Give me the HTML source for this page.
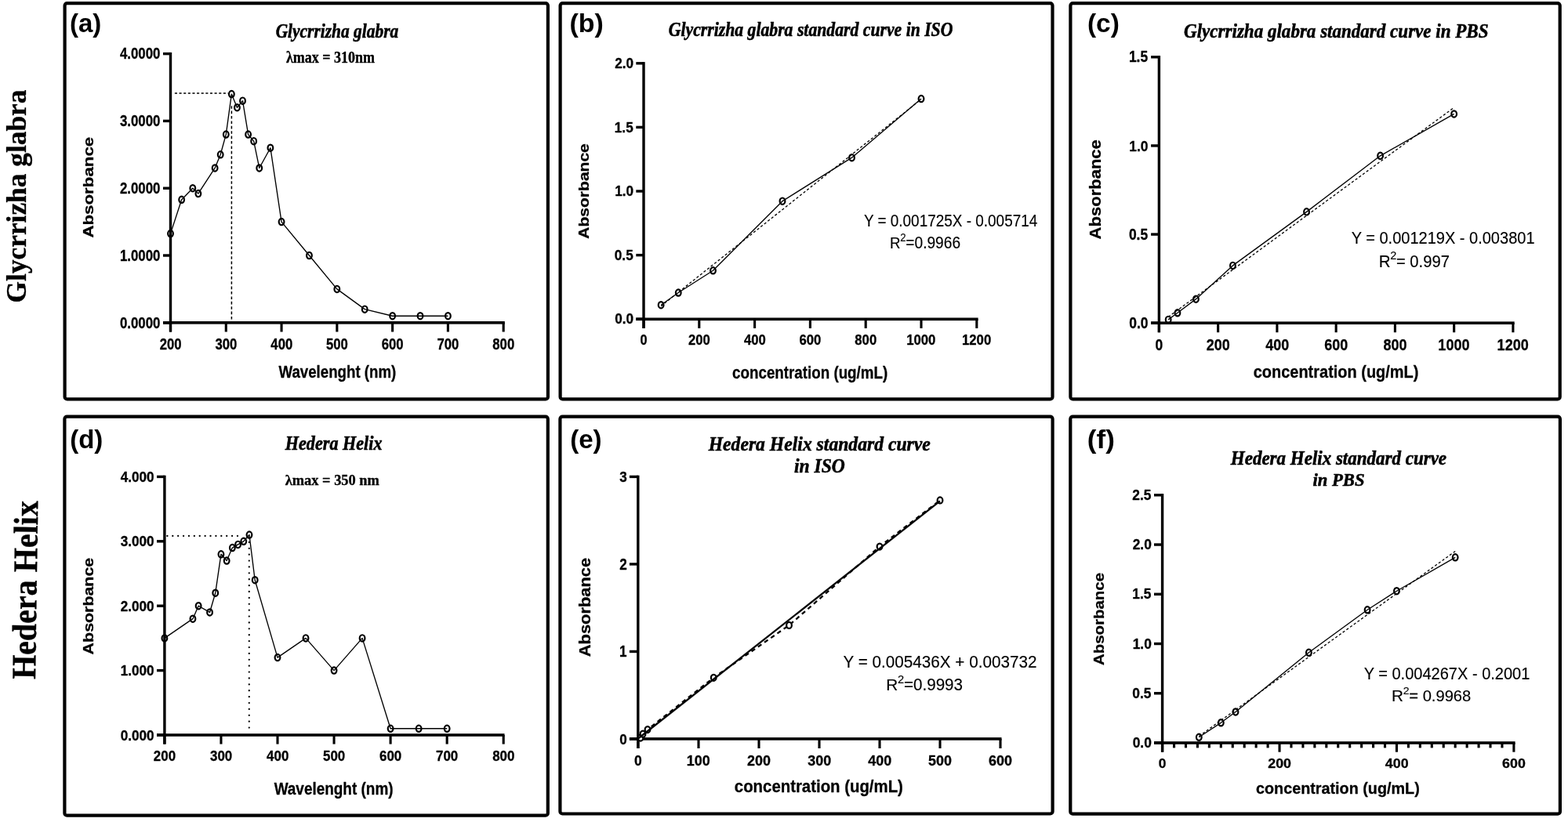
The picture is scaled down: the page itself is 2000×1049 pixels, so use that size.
<!DOCTYPE html>
<html><head><meta charset="utf-8"><title>Figure</title><style>html,body{margin:0;padding:0;background:#fff;width:2000px;height:1049px;overflow:hidden}svg{display:block}</style></head><body>
<svg width="2000" height="1049" viewBox="0 0 2000 1049"><rect width="2000" height="1049" fill="#fff"/><rect x="82.6" y="4.1" width="616.3" height="505.3" rx="3" ry="3" fill="none" stroke="#000" stroke-width="4.2"/>
<rect x="714.6" y="4.1" width="627.9" height="505.3" rx="3" ry="3" fill="none" stroke="#000" stroke-width="4.2"/>
<rect x="1365.4" y="4.1" width="624.3" height="505.3" rx="3" ry="3" fill="none" stroke="#000" stroke-width="4.2"/>
<rect x="82.4" y="531.7" width="616.4" height="509" rx="3" ry="3" fill="none" stroke="#000" stroke-width="4.2"/>
<rect x="714.4" y="531.7" width="628.2" height="506.8" rx="3" ry="3" fill="none" stroke="#000" stroke-width="4.2"/>
<rect x="1365.3" y="531.7" width="624.6" height="507" rx="3" ry="3" fill="none" stroke="#000" stroke-width="4.2"/>
<rect x="215.8" y="66.9" width="3.4" height="356.6" fill="#000"/>
<rect x="208" y="410" width="435.8" height="3.6" fill="#000"/>
<rect x="208" y="66.9" width="9.5" height="3.4" fill="#000"/>
<rect x="208" y="152.7" width="9.5" height="3.4" fill="#000"/>
<rect x="208" y="238.5" width="9.5" height="3.4" fill="#000"/>
<rect x="208" y="324.3" width="9.5" height="3.4" fill="#000"/>
<rect x="208" y="410.1" width="9.5" height="3.4" fill="#000"/>
<rect x="215.95" y="411.8" width="3.1" height="11.7" fill="#000"/>
<rect x="286.73" y="411.8" width="3.1" height="11.7" fill="#000"/>
<rect x="357.51" y="411.8" width="3.1" height="11.7" fill="#000"/>
<rect x="428.29" y="411.8" width="3.1" height="11.7" fill="#000"/>
<rect x="499.07" y="411.8" width="3.1" height="11.7" fill="#000"/>
<rect x="569.85" y="411.8" width="3.1" height="11.7" fill="#000"/>
<rect x="640.63" y="411.8" width="3.1" height="11.7" fill="#000"/>
<line x1="222.9" y1="118.95" x2="290.86" y2="118.95" stroke="#000" stroke-width="1.6" stroke-linecap="butt" stroke-dasharray="3.1,2.53"/>
<line x1="295.4" y1="135.2" x2="295.4" y2="409.8" stroke="#000" stroke-width="1.5" stroke-linecap="butt" stroke-dasharray="3.6,2.8"/>
<polyline points="217.5,298.12 231.66,254.79 245.81,240.2 252.89,247.06 274.12,214.46 281.2,197.3 288.28,171.56 295.36,120.08 302.44,137.24 309.51,128.66 316.59,171.56 323.67,180.14 330.75,214.46 344.9,188.72 359.06,283.1 394.45,326 429.84,368.9 465.23,394.64 500.62,403.22 536.01,403.22 571.4,403.22" fill="none" stroke="#000" stroke-width="1.35" stroke-linejoin="round" stroke-linecap="butt"/>
<ellipse cx="217.5" cy="298.12" rx="3.35" ry="4.15" fill="none" stroke="#000" stroke-width="2.2"/>
<ellipse cx="231.66" cy="254.79" rx="3.35" ry="4.15" fill="none" stroke="#000" stroke-width="2.2"/>
<ellipse cx="245.81" cy="240.2" rx="3.35" ry="4.15" fill="none" stroke="#000" stroke-width="2.2"/>
<ellipse cx="252.89" cy="247.06" rx="3.35" ry="4.15" fill="none" stroke="#000" stroke-width="2.2"/>
<ellipse cx="274.12" cy="214.46" rx="3.35" ry="4.15" fill="none" stroke="#000" stroke-width="2.2"/>
<ellipse cx="281.2" cy="197.3" rx="3.35" ry="4.15" fill="none" stroke="#000" stroke-width="2.2"/>
<ellipse cx="288.28" cy="171.56" rx="3.35" ry="4.15" fill="none" stroke="#000" stroke-width="2.2"/>
<ellipse cx="295.36" cy="120.08" rx="3.35" ry="4.15" fill="none" stroke="#000" stroke-width="2.2"/>
<ellipse cx="302.44" cy="137.24" rx="3.35" ry="4.15" fill="none" stroke="#000" stroke-width="2.2"/>
<ellipse cx="309.51" cy="128.66" rx="3.35" ry="4.15" fill="none" stroke="#000" stroke-width="2.2"/>
<ellipse cx="316.59" cy="171.56" rx="3.35" ry="4.15" fill="none" stroke="#000" stroke-width="2.2"/>
<ellipse cx="323.67" cy="180.14" rx="3.35" ry="4.15" fill="none" stroke="#000" stroke-width="2.2"/>
<ellipse cx="330.75" cy="214.46" rx="3.35" ry="4.15" fill="none" stroke="#000" stroke-width="2.2"/>
<ellipse cx="344.9" cy="188.72" rx="3.35" ry="4.15" fill="none" stroke="#000" stroke-width="2.2"/>
<ellipse cx="359.06" cy="283.1" rx="3.35" ry="4.15" fill="none" stroke="#000" stroke-width="2.2"/>
<ellipse cx="394.45" cy="326" rx="3.35" ry="4.15" fill="none" stroke="#000" stroke-width="2.2"/>
<ellipse cx="429.84" cy="368.9" rx="3.35" ry="4.15" fill="none" stroke="#000" stroke-width="2.2"/>
<ellipse cx="465.23" cy="394.64" rx="3.35" ry="4.15" fill="none" stroke="#000" stroke-width="2.2"/>
<ellipse cx="500.62" cy="403.22" rx="3.35" ry="4.15" fill="none" stroke="#000" stroke-width="2.2"/>
<ellipse cx="536.01" cy="403.22" rx="3.35" ry="4.15" fill="none" stroke="#000" stroke-width="2.2"/>
<ellipse cx="571.4" cy="403.22" rx="3.35" ry="4.15" fill="none" stroke="#000" stroke-width="2.2"/>
<rect x="819.3" y="79.1" width="3.4" height="339.8" fill="#000"/>
<rect x="811.3" y="405.5" width="436.3" height="3.6" fill="#000"/>
<rect x="811.3" y="79.1" width="9.7" height="3.4" fill="#000"/>
<rect x="811.3" y="160.7" width="9.7" height="3.4" fill="#000"/>
<rect x="811.3" y="242.3" width="9.7" height="3.4" fill="#000"/>
<rect x="811.3" y="323.9" width="9.7" height="3.4" fill="#000"/>
<rect x="811.3" y="405.5" width="9.7" height="3.4" fill="#000"/>
<rect x="819.45" y="407.3" width="3.1" height="11.6" fill="#000"/>
<rect x="890.25" y="407.3" width="3.1" height="11.6" fill="#000"/>
<rect x="961.05" y="407.3" width="3.1" height="11.6" fill="#000"/>
<rect x="1031.85" y="407.3" width="3.1" height="11.6" fill="#000"/>
<rect x="1102.65" y="407.3" width="3.1" height="11.6" fill="#000"/>
<rect x="1173.45" y="407.3" width="3.1" height="11.6" fill="#000"/>
<rect x="1244.25" y="407.3" width="3.1" height="11.6" fill="#000"/>
<line x1="843.12" y1="390.64" x2="1175" y2="126.71" stroke="#000" stroke-width="1.3" stroke-linecap="butt" stroke-dasharray="3.2,2.6"/>
<polyline points="843.12,389.18 865.25,373.52 909.5,345.28 998,256.67 1086.5,201.18 1175,126.11" fill="none" stroke="#000" stroke-width="1.35" stroke-linejoin="round" stroke-linecap="butt"/>
<ellipse cx="843.12" cy="389.18" rx="3.35" ry="4.15" fill="none" stroke="#000" stroke-width="2.2"/>
<ellipse cx="865.25" cy="373.52" rx="3.35" ry="4.15" fill="none" stroke="#000" stroke-width="2.2"/>
<ellipse cx="909.5" cy="345.28" rx="3.35" ry="4.15" fill="none" stroke="#000" stroke-width="2.2"/>
<ellipse cx="998" cy="256.67" rx="3.35" ry="4.15" fill="none" stroke="#000" stroke-width="2.2"/>
<ellipse cx="1086.5" cy="201.18" rx="3.35" ry="4.15" fill="none" stroke="#000" stroke-width="2.2"/>
<ellipse cx="1175" cy="126.11" rx="3.35" ry="4.15" fill="none" stroke="#000" stroke-width="2.2"/>
<rect x="1476.7" y="71.1" width="3.4" height="353.1" fill="#000"/>
<rect x="1468.1" y="410.4" width="463.6" height="3.6" fill="#000"/>
<rect x="1468.1" y="71.1" width="10.3" height="3.4" fill="#000"/>
<rect x="1468.1" y="184.23" width="10.3" height="3.4" fill="#000"/>
<rect x="1468.1" y="297.36" width="10.3" height="3.4" fill="#000"/>
<rect x="1468.1" y="410.49" width="10.3" height="3.4" fill="#000"/>
<rect x="1476.85" y="412.2" width="3.1" height="12" fill="#000"/>
<rect x="1552.1" y="412.2" width="3.1" height="12" fill="#000"/>
<rect x="1627.35" y="412.2" width="3.1" height="12" fill="#000"/>
<rect x="1702.6" y="412.2" width="3.1" height="12" fill="#000"/>
<rect x="1777.85" y="412.2" width="3.1" height="12" fill="#000"/>
<rect x="1853.1" y="412.2" width="3.1" height="12" fill="#000"/>
<rect x="1928.35" y="412.2" width="3.1" height="12" fill="#000"/>
<line x1="1490.16" y1="404.44" x2="1854.65" y2="137.24" stroke="#000" stroke-width="1.3" stroke-linecap="butt" stroke-dasharray="3.2,2.6"/>
<polyline points="1490.16,407.9 1501.92,399.3 1525.43,381.65 1572.46,338.89 1666.53,270.33 1760.59,198.83 1854.65,145.43" fill="none" stroke="#000" stroke-width="1.35" stroke-linejoin="round" stroke-linecap="butt"/>
<ellipse cx="1490.16" cy="407.9" rx="3.35" ry="4.15" fill="none" stroke="#000" stroke-width="2.2"/>
<ellipse cx="1501.92" cy="399.3" rx="3.35" ry="4.15" fill="none" stroke="#000" stroke-width="2.2"/>
<ellipse cx="1525.43" cy="381.65" rx="3.35" ry="4.15" fill="none" stroke="#000" stroke-width="2.2"/>
<ellipse cx="1572.46" cy="338.89" rx="3.35" ry="4.15" fill="none" stroke="#000" stroke-width="2.2"/>
<ellipse cx="1666.53" cy="270.33" rx="3.35" ry="4.15" fill="none" stroke="#000" stroke-width="2.2"/>
<ellipse cx="1760.59" cy="198.83" rx="3.35" ry="4.15" fill="none" stroke="#000" stroke-width="2.2"/>
<ellipse cx="1854.65" cy="145.43" rx="3.35" ry="4.15" fill="none" stroke="#000" stroke-width="2.2"/>
<rect x="208.2" y="606.7" width="3.4" height="342.9" fill="#000"/>
<rect x="200" y="936.2" width="443.5" height="3.6" fill="#000"/>
<rect x="200" y="606.7" width="9.9" height="3.4" fill="#000"/>
<rect x="200" y="689.1" width="9.9" height="3.4" fill="#000"/>
<rect x="200" y="771.5" width="9.9" height="3.4" fill="#000"/>
<rect x="200" y="853.9" width="9.9" height="3.4" fill="#000"/>
<rect x="200" y="936.3" width="9.9" height="3.4" fill="#000"/>
<rect x="208.35" y="938" width="3.1" height="11.6" fill="#000"/>
<rect x="280.4" y="938" width="3.1" height="11.6" fill="#000"/>
<rect x="352.45" y="938" width="3.1" height="11.6" fill="#000"/>
<rect x="424.5" y="938" width="3.1" height="11.6" fill="#000"/>
<rect x="496.55" y="938" width="3.1" height="11.6" fill="#000"/>
<rect x="568.6" y="938" width="3.1" height="11.6" fill="#000"/>
<rect x="640.65" y="938" width="3.1" height="11.6" fill="#000"/>
<line x1="213.4" y1="683.9" x2="303" y2="683.9" stroke="#000" stroke-width="2.3" stroke-linecap="round" stroke-dasharray="0.01,6.88"/>
<line x1="317.8" y1="691.9" x2="317.8" y2="929" stroke="#000" stroke-width="2.3" stroke-linecap="round" stroke-dasharray="0.01,7.88"/>
<polyline points="209.9,814.4 245.93,789.68 253.13,773.2 267.54,781.44 274.75,756.72 281.95,707.28 289.16,715.52 296.36,699.04 303.56,694.92 310.77,690.8 317.98,682.56 325.18,740.24 354,839.12 390.02,814.4 426.05,855.6 462.08,814.4 498.1,929.76 534.12,929.76 570.15,929.76" fill="none" stroke="#000" stroke-width="1.35" stroke-linejoin="round" stroke-linecap="butt"/>
<ellipse cx="209.9" cy="814.4" rx="3.35" ry="4.15" fill="none" stroke="#000" stroke-width="2.2"/>
<ellipse cx="245.93" cy="789.68" rx="3.35" ry="4.15" fill="none" stroke="#000" stroke-width="2.2"/>
<ellipse cx="253.13" cy="773.2" rx="3.35" ry="4.15" fill="none" stroke="#000" stroke-width="2.2"/>
<ellipse cx="267.54" cy="781.44" rx="3.35" ry="4.15" fill="none" stroke="#000" stroke-width="2.2"/>
<ellipse cx="274.75" cy="756.72" rx="3.35" ry="4.15" fill="none" stroke="#000" stroke-width="2.2"/>
<ellipse cx="281.95" cy="707.28" rx="3.35" ry="4.15" fill="none" stroke="#000" stroke-width="2.2"/>
<ellipse cx="289.16" cy="715.52" rx="3.35" ry="4.15" fill="none" stroke="#000" stroke-width="2.2"/>
<ellipse cx="296.36" cy="699.04" rx="3.35" ry="4.15" fill="none" stroke="#000" stroke-width="2.2"/>
<ellipse cx="303.56" cy="694.92" rx="3.35" ry="4.15" fill="none" stroke="#000" stroke-width="2.2"/>
<ellipse cx="310.77" cy="690.8" rx="3.35" ry="4.15" fill="none" stroke="#000" stroke-width="2.2"/>
<ellipse cx="317.98" cy="682.56" rx="3.35" ry="4.15" fill="none" stroke="#000" stroke-width="2.2"/>
<ellipse cx="325.18" cy="740.24" rx="3.35" ry="4.15" fill="none" stroke="#000" stroke-width="2.2"/>
<ellipse cx="354" cy="839.12" rx="3.35" ry="4.15" fill="none" stroke="#000" stroke-width="2.2"/>
<ellipse cx="390.02" cy="814.4" rx="3.35" ry="4.15" fill="none" stroke="#000" stroke-width="2.2"/>
<ellipse cx="426.05" cy="855.6" rx="3.35" ry="4.15" fill="none" stroke="#000" stroke-width="2.2"/>
<ellipse cx="462.08" cy="814.4" rx="3.35" ry="4.15" fill="none" stroke="#000" stroke-width="2.2"/>
<ellipse cx="498.1" cy="929.76" rx="3.35" ry="4.15" fill="none" stroke="#000" stroke-width="2.2"/>
<ellipse cx="534.12" cy="929.76" rx="3.35" ry="4.15" fill="none" stroke="#000" stroke-width="2.2"/>
<ellipse cx="570.15" cy="929.76" rx="3.35" ry="4.15" fill="none" stroke="#000" stroke-width="2.2"/>
<rect x="812.1" y="606.7" width="3.4" height="348.3" fill="#000"/>
<rect x="802.9" y="941.1" width="474.6" height="3.6" fill="#000"/>
<rect x="802.9" y="606.7" width="10.9" height="3.4" fill="#000"/>
<rect x="802.9" y="718.23" width="10.9" height="3.4" fill="#000"/>
<rect x="802.9" y="829.76" width="10.9" height="3.4" fill="#000"/>
<rect x="802.9" y="941.29" width="10.9" height="3.4" fill="#000"/>
<rect x="812.45" y="942.9" width="3.1" height="12.1" fill="#000"/>
<rect x="889.45" y="942.9" width="3.1" height="12.1" fill="#000"/>
<rect x="966.45" y="942.9" width="3.1" height="12.1" fill="#000"/>
<rect x="1043.45" y="942.9" width="3.1" height="12.1" fill="#000"/>
<rect x="1120.45" y="942.9" width="3.1" height="12.1" fill="#000"/>
<rect x="1197.45" y="942.9" width="3.1" height="12.1" fill="#000"/>
<rect x="1274.45" y="942.9" width="3.1" height="12.1" fill="#000"/>
<polyline points="817,941.56 820.01,936.65 826.01,931.08 910.25,864.83 1006.5,797.91 1122,697.53 1199,638.42" fill="none" stroke="#000" stroke-width="2.3" stroke-linejoin="round" stroke-linecap="butt" stroke-dasharray="5.5,4.5"/>
<ellipse cx="817" cy="941.56" rx="3.35" ry="4.0" fill="#fff" stroke="#000" stroke-width="2.2"/>
<ellipse cx="820.01" cy="936.65" rx="3.35" ry="4.0" fill="#fff" stroke="#000" stroke-width="2.2"/>
<ellipse cx="826.01" cy="931.08" rx="3.35" ry="4.0" fill="#fff" stroke="#000" stroke-width="2.2"/>
<ellipse cx="910.25" cy="864.83" rx="3.35" ry="4.0" fill="#fff" stroke="#000" stroke-width="2.2"/>
<ellipse cx="1006.5" cy="797.91" rx="3.35" ry="4.0" fill="#fff" stroke="#000" stroke-width="2.2"/>
<ellipse cx="1122" cy="697.53" rx="3.35" ry="4.0" fill="#fff" stroke="#000" stroke-width="2.2"/>
<ellipse cx="1199" cy="638.42" rx="3.35" ry="4.0" fill="#fff" stroke="#000" stroke-width="2.2"/>
<line x1="814" y1="942.48" x2="1199" y2="639.35" stroke="#000" stroke-width="2.3" stroke-linecap="butt"/>
<rect x="1480.9" y="630.1" width="3.4" height="329.6" fill="#000"/>
<rect x="1472" y="946.2" width="460.6" height="3.6" fill="#000"/>
<rect x="1472" y="630.1" width="10.6" height="3.4" fill="#000"/>
<rect x="1472" y="693.34" width="10.6" height="3.4" fill="#000"/>
<rect x="1472" y="756.58" width="10.6" height="3.4" fill="#000"/>
<rect x="1472" y="819.82" width="10.6" height="3.4" fill="#000"/>
<rect x="1472" y="883.06" width="10.6" height="3.4" fill="#000"/>
<rect x="1472" y="946.3" width="10.6" height="3.4" fill="#000"/>
<rect x="1481.05" y="948" width="3.1" height="11.7" fill="#000"/>
<rect x="1630.48" y="948" width="3.1" height="11.7" fill="#000"/>
<rect x="1779.91" y="948" width="3.1" height="11.7" fill="#000"/>
<rect x="1929.34" y="948" width="3.1" height="11.7" fill="#000"/>
<rect x="1495.99" y="948" width="3.1" height="6.4" fill="#000"/>
<rect x="1510.94" y="948" width="3.1" height="6.4" fill="#000"/>
<rect x="1525.88" y="948" width="3.1" height="6.4" fill="#000"/>
<rect x="1540.82" y="948" width="3.1" height="6.4" fill="#000"/>
<rect x="1555.76" y="948" width="3.1" height="6.4" fill="#000"/>
<rect x="1570.71" y="948" width="3.1" height="6.4" fill="#000"/>
<rect x="1585.65" y="948" width="3.1" height="6.4" fill="#000"/>
<rect x="1600.59" y="948" width="3.1" height="6.4" fill="#000"/>
<rect x="1615.54" y="948" width="3.1" height="6.4" fill="#000"/>
<rect x="1645.42" y="948" width="3.1" height="6.4" fill="#000"/>
<rect x="1660.37" y="948" width="3.1" height="6.4" fill="#000"/>
<rect x="1675.31" y="948" width="3.1" height="6.4" fill="#000"/>
<rect x="1690.25" y="948" width="3.1" height="6.4" fill="#000"/>
<rect x="1705.19" y="948" width="3.1" height="6.4" fill="#000"/>
<rect x="1720.14" y="948" width="3.1" height="6.4" fill="#000"/>
<rect x="1735.08" y="948" width="3.1" height="6.4" fill="#000"/>
<rect x="1750.02" y="948" width="3.1" height="6.4" fill="#000"/>
<rect x="1764.97" y="948" width="3.1" height="6.4" fill="#000"/>
<rect x="1794.85" y="948" width="3.1" height="6.4" fill="#000"/>
<rect x="1809.8" y="948" width="3.1" height="6.4" fill="#000"/>
<rect x="1824.74" y="948" width="3.1" height="6.4" fill="#000"/>
<rect x="1839.68" y="948" width="3.1" height="6.4" fill="#000"/>
<rect x="1854.62" y="948" width="3.1" height="6.4" fill="#000"/>
<rect x="1869.57" y="948" width="3.1" height="6.4" fill="#000"/>
<rect x="1884.51" y="948" width="3.1" height="6.4" fill="#000"/>
<rect x="1899.45" y="948" width="3.1" height="6.4" fill="#000"/>
<rect x="1914.4" y="948" width="3.1" height="6.4" fill="#000"/>
<line x1="1529.3" y1="939.58" x2="1856.17" y2="703.46" stroke="#000" stroke-width="1.3" stroke-linecap="butt" stroke-dasharray="3.2,2.6"/>
<polyline points="1529.3,940.79 1557.31,922.32 1575.99,908.48 1669.39,832.78 1744.1,778.26 1781.46,754.23 1856.17,711.36" fill="none" stroke="#000" stroke-width="1.35" stroke-linejoin="round" stroke-linecap="butt"/>
<ellipse cx="1529.3" cy="940.79" rx="3.35" ry="4.15" fill="none" stroke="#000" stroke-width="2.2"/>
<ellipse cx="1557.31" cy="922.32" rx="3.35" ry="4.15" fill="none" stroke="#000" stroke-width="2.2"/>
<ellipse cx="1575.99" cy="908.48" rx="3.35" ry="4.15" fill="none" stroke="#000" stroke-width="2.2"/>
<ellipse cx="1669.39" cy="832.78" rx="3.35" ry="4.15" fill="none" stroke="#000" stroke-width="2.2"/>
<ellipse cx="1744.1" cy="778.26" rx="3.35" ry="4.15" fill="none" stroke="#000" stroke-width="2.2"/>
<ellipse cx="1781.46" cy="754.23" rx="3.35" ry="4.15" fill="none" stroke="#000" stroke-width="2.2"/>
<ellipse cx="1856.17" cy="711.36" rx="3.35" ry="4.15" fill="none" stroke="#000" stroke-width="2.2"/>
<text transform="matrix(0,-0.35341,0.35214,0,32.773,386.392)" font-family="&quot;Liberation Serif&quot;, serif" font-weight="bold" font-style="normal" font-size="100" stroke="#000" stroke-width="0.99" stroke-linejoin="round">Glycrrizha glabra</text>
<text transform="rotate(0.84,32.70,752.80) matrix(0,-0.40009,0.43712,0,46.688,866.825)" font-family="&quot;Liberation Serif&quot;, serif" font-weight="bold" font-style="normal" font-size="100" stroke="#000" stroke-width="0.84" stroke-linejoin="round">Hedera Helix</text>
<text transform="matrix(0.33009,0,0,0.32872,88.950,40.897)" font-family="&quot;Liberation Sans&quot;, sans-serif" font-weight="bold" font-style="normal" font-size="100">(a)</text>
<text transform="matrix(0.21441,0,0,0.26056,351.632,48.253)" font-family="&quot;Liberation Serif&quot;, serif" font-weight="bold" font-style="italic" font-size="100" stroke="#000" stroke-width="2.33" stroke-linejoin="round">Glycrrizha glabra</text>
<text transform="matrix(0.17995,0,0,0.20625,364.995,79.613)" font-family="&quot;Liberation Serif&quot;, serif" font-weight="bold" font-style="normal" font-size="100" stroke="#000" stroke-width="1.82" stroke-linejoin="round">λmax = 310nm</text>
<text transform="matrix(0.16877,0,0,0.19718,152.881,75.403)" font-family="&quot;Liberation Sans&quot;, sans-serif" font-weight="bold" font-style="normal" font-size="100" stroke="#000" stroke-width="1.64" stroke-linejoin="round">4.0000</text>
<text transform="matrix(0.16877,0,0,0.19718,152.882,161.203)" font-family="&quot;Liberation Sans&quot;, sans-serif" font-weight="bold" font-style="normal" font-size="100" stroke="#000" stroke-width="1.64" stroke-linejoin="round">3.0000</text>
<text transform="matrix(0.16876,0,0,0.19718,152.883,247.003)" font-family="&quot;Liberation Sans&quot;, sans-serif" font-weight="bold" font-style="normal" font-size="100" stroke="#000" stroke-width="1.64" stroke-linejoin="round">2.0000</text>
<text transform="matrix(0.16875,0,0,0.19718,152.886,332.803)" font-family="&quot;Liberation Sans&quot;, sans-serif" font-weight="bold" font-style="normal" font-size="100" stroke="#000" stroke-width="1.64" stroke-linejoin="round">1.0000</text>
<text transform="matrix(0.16876,0,0,0.19718,152.884,418.603)" font-family="&quot;Liberation Sans&quot;, sans-serif" font-weight="bold" font-style="normal" font-size="100" stroke="#000" stroke-width="1.64" stroke-linejoin="round">0.0000</text>
<text transform="matrix(0.16687,0,0,0.19859,203.649,446.251)" font-family="&quot;Liberation Sans&quot;, sans-serif" font-weight="bold" font-style="normal" font-size="100" stroke="#000" stroke-width="1.65" stroke-linejoin="round">200</text>
<text transform="matrix(0.16689,0,0,0.19859,274.512,446.251)" font-family="&quot;Liberation Sans&quot;, sans-serif" font-weight="bold" font-style="normal" font-size="100" stroke="#000" stroke-width="1.65" stroke-linejoin="round">300</text>
<text transform="matrix(0.16690,0,0,0.19859,345.374,446.251)" font-family="&quot;Liberation Sans&quot;, sans-serif" font-weight="bold" font-style="normal" font-size="100" stroke="#000" stroke-width="1.65" stroke-linejoin="round">400</text>
<text transform="matrix(0.16688,0,0,0.19859,415.989,446.251)" font-family="&quot;Liberation Sans&quot;, sans-serif" font-weight="bold" font-style="normal" font-size="100" stroke="#000" stroke-width="1.65" stroke-linejoin="round">500</text>
<text transform="matrix(0.16688,0,0,0.19859,486.769,446.251)" font-family="&quot;Liberation Sans&quot;, sans-serif" font-weight="bold" font-style="normal" font-size="100" stroke="#000" stroke-width="1.65" stroke-linejoin="round">600</text>
<text transform="matrix(0.16686,0,0,0.19859,557.467,446.251)" font-family="&quot;Liberation Sans&quot;, sans-serif" font-weight="bold" font-style="normal" font-size="100" stroke="#000" stroke-width="1.65" stroke-linejoin="round">700</text>
<text transform="matrix(0.16688,0,0,0.19859,628.329,446.251)" font-family="&quot;Liberation Sans&quot;, sans-serif" font-weight="bold" font-style="normal" font-size="100" stroke="#000" stroke-width="1.65" stroke-linejoin="round">800</text>
<text transform="matrix(0,-0.22304,0.18243,0,118.668,303.596)" font-family="&quot;Liberation Sans&quot;, sans-serif" font-weight="bold" font-style="normal" font-size="100" stroke="#000" stroke-width="1.49" stroke-linejoin="round">Absorbance</text>
<text transform="matrix(0.18708,0,0,0.22234,355.450,481.681)" font-family="&quot;Liberation Sans&quot;, sans-serif" font-weight="bold" font-style="normal" font-size="100" stroke="#000" stroke-width="1.47" stroke-linejoin="round">Wavelenght (nm)</text>
<text transform="matrix(0.33983,0,0,0.32713,726.501,40.630)" font-family="&quot;Liberation Sans&quot;, sans-serif" font-weight="bold" font-style="normal" font-size="100">(b)</text>
<text transform="matrix(0.21734,0,0,0.24389,852.823,45.853)" font-family="&quot;Liberation Serif&quot;, serif" font-weight="bold" font-style="italic" font-size="100" stroke="#000" stroke-width="2.39" stroke-linejoin="round">Glycrrizha glabra standard curve in ISO</text>
<text transform="matrix(0.17177,0,0,0.18169,784.161,87.068)" font-family="&quot;Liberation Sans&quot;, sans-serif" font-weight="bold" font-style="normal" font-size="100" stroke="#000" stroke-width="1.70" stroke-linejoin="round">2.0</text>
<text transform="matrix(0.17176,0,0,0.18429,783.819,168.666)" font-family="&quot;Liberation Sans&quot;, sans-serif" font-weight="bold" font-style="normal" font-size="100" stroke="#000" stroke-width="1.69" stroke-linejoin="round">1.5</text>
<text transform="matrix(0.17172,0,0,0.18169,784.168,250.268)" font-family="&quot;Liberation Sans&quot;, sans-serif" font-weight="bold" font-style="normal" font-size="100" stroke="#000" stroke-width="1.70" stroke-linejoin="round">1.0</text>
<text transform="matrix(0.17179,0,0,0.18169,783.815,331.868)" font-family="&quot;Liberation Sans&quot;, sans-serif" font-weight="bold" font-style="normal" font-size="100" stroke="#000" stroke-width="1.70" stroke-linejoin="round">0.5</text>
<text transform="matrix(0.17176,0,0,0.18169,784.163,413.468)" font-family="&quot;Liberation Sans&quot;, sans-serif" font-weight="bold" font-style="normal" font-size="100" stroke="#000" stroke-width="1.70" stroke-linejoin="round">0.0</text>
<text transform="matrix(0.16250,0,0,0.17887,816.450,440.271)" font-family="&quot;Liberation Sans&quot;, sans-serif" font-weight="bold" font-style="normal" font-size="100" stroke="#000" stroke-width="1.76" stroke-linejoin="round">0</text>
<text transform="matrix(0.16688,0,0,0.17887,877.949,440.271)" font-family="&quot;Liberation Sans&quot;, sans-serif" font-weight="bold" font-style="normal" font-size="100" stroke="#000" stroke-width="1.74" stroke-linejoin="round">200</text>
<text transform="matrix(0.16690,0,0,0.17887,948.914,440.271)" font-family="&quot;Liberation Sans&quot;, sans-serif" font-weight="bold" font-style="normal" font-size="100" stroke="#000" stroke-width="1.74" stroke-linejoin="round">400</text>
<text transform="matrix(0.16687,0,0,0.17887,1019.549,440.271)" font-family="&quot;Liberation Sans&quot;, sans-serif" font-weight="bold" font-style="normal" font-size="100" stroke="#000" stroke-width="1.74" stroke-linejoin="round">600</text>
<text transform="matrix(0.16687,0,0,0.17887,1090.349,440.271)" font-family="&quot;Liberation Sans&quot;, sans-serif" font-weight="bold" font-style="normal" font-size="100" stroke="#000" stroke-width="1.74" stroke-linejoin="round">800</text>
<text transform="matrix(0.16734,0,0,0.17887,1156.174,440.271)" font-family="&quot;Liberation Sans&quot;, sans-serif" font-weight="bold" font-style="normal" font-size="100" stroke="#000" stroke-width="1.73" stroke-linejoin="round">1000</text>
<text transform="matrix(0.16734,0,0,0.17887,1226.974,440.271)" font-family="&quot;Liberation Sans&quot;, sans-serif" font-weight="bold" font-style="normal" font-size="100" stroke="#000" stroke-width="1.73" stroke-linejoin="round">1200</text>
<text transform="matrix(0,-0.21030,0.18514,0,750.865,304.671)" font-family="&quot;Liberation Sans&quot;, sans-serif" font-weight="bold" font-style="normal" font-size="100" stroke="#000" stroke-width="1.52" stroke-linejoin="round">Absorbance</text>
<text transform="matrix(0.18777,0,0,0.21170,934.099,482.804)" font-family="&quot;Liberation Sans&quot;, sans-serif" font-weight="bold" font-style="normal" font-size="100" stroke="#000" stroke-width="1.50" stroke-linejoin="round">concentration (ug/mL)</text>
<text transform="matrix(0.18956,0,0,0.22042,1101.896,288.705)" font-family="&quot;Liberation Sans&quot;, sans-serif" font-weight="normal" font-style="normal" font-size="100" stroke="#000" stroke-width="0.73" stroke-linejoin="round">Y = 0.001725X - 0.005714</text>
<text transform="matrix(0.18750,0,0,0.20929,1134.975,317.325)" font-family="&quot;Liberation Sans&quot;, sans-serif" font-weight="normal" font-style="normal" font-size="100" stroke="#000" stroke-width="0.76" stroke-linejoin="round">R</text>
<text transform="matrix(0.13152,0,0,0.13786,1148.217,307.925)" font-family="&quot;Liberation Sans&quot;, sans-serif" font-weight="normal" font-style="normal" font-size="100" stroke="#000" stroke-width="1.11" stroke-linejoin="round">2</text>
<text transform="matrix(0.19169,0,0,0.21197,1155.317,317.313)" font-family="&quot;Liberation Sans&quot;, sans-serif" font-weight="normal" font-style="normal" font-size="100" stroke="#000" stroke-width="0.74" stroke-linejoin="round">=0.9966</text>
<text transform="matrix(0.33451,0,0,0.32553,1386.927,40.964)" font-family="&quot;Liberation Sans&quot;, sans-serif" font-weight="bold" font-style="normal" font-size="100">(c)</text>
<text transform="matrix(0.23046,0,0,0.25389,1510.084,48.093)" font-family="&quot;Liberation Serif&quot;, serif" font-weight="bold" font-style="italic" font-size="100" stroke="#000" stroke-width="2.27" stroke-linejoin="round">Glycrrizha glabra standard curve in PBS</text>
<text transform="matrix(0.17481,0,0,0.19571,1439.901,79.454)" font-family="&quot;Liberation Sans&quot;, sans-serif" font-weight="bold" font-style="normal" font-size="100" stroke="#000" stroke-width="1.62" stroke-linejoin="round">1.5</text>
<text transform="matrix(0.17477,0,0,0.19296,1440.256,192.587)" font-family="&quot;Liberation Sans&quot;, sans-serif" font-weight="bold" font-style="normal" font-size="100" stroke="#000" stroke-width="1.63" stroke-linejoin="round">1.0</text>
<text transform="matrix(0.17484,0,0,0.19296,1439.896,305.717)" font-family="&quot;Liberation Sans&quot;, sans-serif" font-weight="bold" font-style="normal" font-size="100" stroke="#000" stroke-width="1.63" stroke-linejoin="round">0.5</text>
<text transform="matrix(0.17481,0,0,0.19296,1440.251,418.847)" font-family="&quot;Liberation Sans&quot;, sans-serif" font-weight="bold" font-style="normal" font-size="100" stroke="#000" stroke-width="1.63" stroke-linejoin="round">0.0</text>
<text transform="matrix(0.17544,0,0,0.19577,1473.488,446.754)" font-family="&quot;Liberation Sans&quot;, sans-serif" font-weight="bold" font-style="normal" font-size="100" stroke="#000" stroke-width="1.62" stroke-linejoin="round">0</text>
<text transform="matrix(0.17982,0,0,0.19577,1538.725,446.754)" font-family="&quot;Liberation Sans&quot;, sans-serif" font-weight="bold" font-style="normal" font-size="100" stroke="#000" stroke-width="1.60" stroke-linejoin="round">200</text>
<text transform="matrix(0.17984,0,0,0.19577,1614.153,446.754)" font-family="&quot;Liberation Sans&quot;, sans-serif" font-weight="bold" font-style="normal" font-size="100" stroke="#000" stroke-width="1.60" stroke-linejoin="round">400</text>
<text transform="matrix(0.17982,0,0,0.19577,1689.225,446.754)" font-family="&quot;Liberation Sans&quot;, sans-serif" font-weight="bold" font-style="normal" font-size="100" stroke="#000" stroke-width="1.60" stroke-linejoin="round">600</text>
<text transform="matrix(0.17982,0,0,0.19577,1764.475,446.754)" font-family="&quot;Liberation Sans&quot;, sans-serif" font-weight="bold" font-style="normal" font-size="100" stroke="#000" stroke-width="1.60" stroke-linejoin="round">800</text>
<text transform="matrix(0.18028,0,0,0.19577,1834.368,446.754)" font-family="&quot;Liberation Sans&quot;, sans-serif" font-weight="bold" font-style="normal" font-size="100" stroke="#000" stroke-width="1.60" stroke-linejoin="round">1000</text>
<text transform="matrix(0.18028,0,0,0.19577,1909.618,446.754)" font-family="&quot;Liberation Sans&quot;, sans-serif" font-weight="bold" font-style="normal" font-size="100" stroke="#000" stroke-width="1.60" stroke-linejoin="round">1200</text>
<text transform="matrix(0,-0.22024,0.20405,0,1404.346,305.390)" font-family="&quot;Liberation Sans&quot;, sans-serif" font-weight="bold" font-style="normal" font-size="100" stroke="#000" stroke-width="1.42" stroke-linejoin="round">Absorbance</text>
<text transform="matrix(0.19967,0,0,0.21915,1598.751,481.748)" font-family="&quot;Liberation Sans&quot;, sans-serif" font-weight="bold" font-style="normal" font-size="100" stroke="#000" stroke-width="1.43" stroke-linejoin="round">concentration (ug/mL)</text>
<text transform="matrix(0.20030,0,0,0.22324,1723.674,311.002)" font-family="&quot;Liberation Sans&quot;, sans-serif" font-weight="normal" font-style="normal" font-size="100" stroke="#000" stroke-width="0.71" stroke-linejoin="round">Y = 0.001219X - 0.003801</text>
<text transform="matrix(0.20583,0,0,0.22357,1758.728,340.525)" font-family="&quot;Liberation Sans&quot;, sans-serif" font-weight="normal" font-style="normal" font-size="100" stroke="#000" stroke-width="0.70" stroke-linejoin="round">R</text>
<text transform="matrix(0.14457,0,0,0.14357,1773.152,331.425)" font-family="&quot;Liberation Sans&quot;, sans-serif" font-weight="normal" font-style="normal" font-size="100" stroke="#000" stroke-width="1.04" stroke-linejoin="round">2</text>
<text transform="matrix(0.20199,0,0,0.22606,1780.965,340.699)" font-family="&quot;Liberation Sans&quot;, sans-serif" font-weight="normal" font-style="normal" font-size="100" stroke="#000" stroke-width="0.70" stroke-linejoin="round">= 0.997</text>
<text transform="matrix(0.32966,0,0,0.32979,89.252,572.174)" font-family="&quot;Liberation Sans&quot;, sans-serif" font-weight="bold" font-style="normal" font-size="100">(d)</text>
<text transform="matrix(0.22163,0,0,0.24786,363.797,573.877)" font-family="&quot;Liberation Serif&quot;, serif" font-weight="bold" font-style="italic" font-size="100" stroke="#000" stroke-width="2.35" stroke-linejoin="round">Hedera Helix</text>
<text transform="matrix(0.18410,0,0,0.19653,363.691,619.232)" font-family="&quot;Liberation Serif&quot;, serif" font-weight="bold" font-style="normal" font-size="100" stroke="#000" stroke-width="1.84" stroke-linejoin="round">λmax = 350 nm</text>
<text transform="matrix(0.17162,0,0,0.19155,153.660,615.008)" font-family="&quot;Liberation Sans&quot;, sans-serif" font-weight="bold" font-style="normal" font-size="100" stroke="#000" stroke-width="1.65" stroke-linejoin="round">4.000</text>
<text transform="matrix(0.17162,0,0,0.19155,153.661,697.408)" font-family="&quot;Liberation Sans&quot;, sans-serif" font-weight="bold" font-style="normal" font-size="100" stroke="#000" stroke-width="1.65" stroke-linejoin="round">3.000</text>
<text transform="matrix(0.17161,0,0,0.19155,153.662,779.808)" font-family="&quot;Liberation Sans&quot;, sans-serif" font-weight="bold" font-style="normal" font-size="100" stroke="#000" stroke-width="1.65" stroke-linejoin="round">2.000</text>
<text transform="matrix(0.17159,0,0,0.19155,153.666,862.208)" font-family="&quot;Liberation Sans&quot;, sans-serif" font-weight="bold" font-style="normal" font-size="100" stroke="#000" stroke-width="1.65" stroke-linejoin="round">1.000</text>
<text transform="matrix(0.17160,0,0,0.19155,153.664,944.608)" font-family="&quot;Liberation Sans&quot;, sans-serif" font-weight="bold" font-style="normal" font-size="100" stroke="#000" stroke-width="1.65" stroke-linejoin="round">0.000</text>
<text transform="matrix(0.16937,0,0,0.18732,195.842,971.463)" font-family="&quot;Liberation Sans&quot;, sans-serif" font-weight="bold" font-style="normal" font-size="100" stroke="#000" stroke-width="1.68" stroke-linejoin="round">200</text>
<text transform="matrix(0.16939,0,0,0.18732,267.976,971.463)" font-family="&quot;Liberation Sans&quot;, sans-serif" font-weight="bold" font-style="normal" font-size="100" stroke="#000" stroke-width="1.68" stroke-linejoin="round">300</text>
<text transform="matrix(0.16940,0,0,0.18732,340.109,971.463)" font-family="&quot;Liberation Sans&quot;, sans-serif" font-weight="bold" font-style="normal" font-size="100" stroke="#000" stroke-width="1.68" stroke-linejoin="round">400</text>
<text transform="matrix(0.16938,0,0,0.18732,411.992,971.463)" font-family="&quot;Liberation Sans&quot;, sans-serif" font-weight="bold" font-style="normal" font-size="100" stroke="#000" stroke-width="1.68" stroke-linejoin="round">500</text>
<text transform="matrix(0.16938,0,0,0.18732,484.042,971.463)" font-family="&quot;Liberation Sans&quot;, sans-serif" font-weight="bold" font-style="normal" font-size="100" stroke="#000" stroke-width="1.68" stroke-linejoin="round">600</text>
<text transform="matrix(0.16936,0,0,0.18732,556.008,971.463)" font-family="&quot;Liberation Sans&quot;, sans-serif" font-weight="bold" font-style="normal" font-size="100" stroke="#000" stroke-width="1.68" stroke-linejoin="round">700</text>
<text transform="matrix(0.16938,0,0,0.18732,628.142,971.463)" font-family="&quot;Liberation Sans&quot;, sans-serif" font-weight="bold" font-style="normal" font-size="100" stroke="#000" stroke-width="1.68" stroke-linejoin="round">800</text>
<text transform="matrix(0,-0.21396,0.18108,0,118.669,835.378)" font-family="&quot;Liberation Sans&quot;, sans-serif" font-weight="bold" font-style="normal" font-size="100" stroke="#000" stroke-width="1.52" stroke-linejoin="round">Absorbance</text>
<text transform="matrix(0.18959,0,0,0.21170,349.650,1014.104)" font-family="&quot;Liberation Sans&quot;, sans-serif" font-weight="bold" font-style="normal" font-size="100" stroke="#000" stroke-width="1.50" stroke-linejoin="round">Wavelenght (nm)</text>
<text transform="matrix(0.33097,0,0,0.32660,727.145,572.241)" font-family="&quot;Liberation Sans&quot;, sans-serif" font-weight="bold" font-style="normal" font-size="100">(e)</text>
<text transform="matrix(0.23666,0,0,0.25071,903.712,574.574)" font-family="&quot;Liberation Serif&quot;, serif" font-weight="bold" font-style="italic" font-size="100" stroke="#000" stroke-width="2.26" stroke-linejoin="round">Hedera Helix standard curve</text>
<text transform="matrix(0.23524,0,0,0.24437,1013.005,603.136)" font-family="&quot;Liberation Serif&quot;, serif" font-weight="bold" font-style="italic" font-size="100" stroke="#000" stroke-width="2.29" stroke-linejoin="round">in ISO</text>
<text transform="matrix(0.17108,0,0,0.19014,790.154,614.960)" font-family="&quot;Liberation Sans&quot;, sans-serif" font-weight="bold" font-style="normal" font-size="100" stroke="#000" stroke-width="1.66" stroke-linejoin="round">3</text>
<text transform="matrix(0.17096,0,0,0.19286,790.160,726.680)" font-family="&quot;Liberation Sans&quot;, sans-serif" font-weight="bold" font-style="normal" font-size="100" stroke="#000" stroke-width="1.65" stroke-linejoin="round">2</text>
<text transform="matrix(0.17070,0,0,0.19565,790.003,838.210)" font-family="&quot;Liberation Sans&quot;, sans-serif" font-weight="bold" font-style="normal" font-size="100" stroke="#000" stroke-width="1.64" stroke-linejoin="round">1</text>
<text transform="matrix(0.17083,0,0,0.19014,790.167,949.550)" font-family="&quot;Liberation Sans&quot;, sans-serif" font-weight="bold" font-style="normal" font-size="100" stroke="#000" stroke-width="1.66" stroke-linejoin="round">0</text>
<text transform="matrix(0.17500,0,0,0.19155,809.100,976.858)" font-family="&quot;Liberation Sans&quot;, sans-serif" font-weight="bold" font-style="normal" font-size="100" stroke="#000" stroke-width="1.64" stroke-linejoin="round">0</text>
<text transform="matrix(0.17934,0,0,0.19155,875.846,976.858)" font-family="&quot;Liberation Sans&quot;, sans-serif" font-weight="bold" font-style="normal" font-size="100" stroke="#000" stroke-width="1.62" stroke-linejoin="round">100</text>
<text transform="matrix(0.17938,0,0,0.19155,953.112,976.858)" font-family="&quot;Liberation Sans&quot;, sans-serif" font-weight="bold" font-style="normal" font-size="100" stroke="#000" stroke-width="1.62" stroke-linejoin="round">200</text>
<text transform="matrix(0.17939,0,0,0.19155,1030.201,976.858)" font-family="&quot;Liberation Sans&quot;, sans-serif" font-weight="bold" font-style="normal" font-size="100" stroke="#000" stroke-width="1.62" stroke-linejoin="round">300</text>
<text transform="matrix(0.17940,0,0,0.19155,1107.289,976.858)" font-family="&quot;Liberation Sans&quot;, sans-serif" font-weight="bold" font-style="normal" font-size="100" stroke="#000" stroke-width="1.62" stroke-linejoin="round">400</text>
<text transform="matrix(0.17937,0,0,0.19155,1184.112,976.858)" font-family="&quot;Liberation Sans&quot;, sans-serif" font-weight="bold" font-style="normal" font-size="100" stroke="#000" stroke-width="1.62" stroke-linejoin="round">500</text>
<text transform="matrix(0.17937,0,0,0.19155,1261.112,976.858)" font-family="&quot;Liberation Sans&quot;, sans-serif" font-weight="bold" font-style="normal" font-size="100" stroke="#000" stroke-width="1.62" stroke-linejoin="round">600</text>
<text transform="matrix(0,-0.21902,0.19459,0,753.255,838.288)" font-family="&quot;Liberation Sans&quot;, sans-serif" font-weight="bold" font-style="normal" font-size="100" stroke="#000" stroke-width="1.45" stroke-linejoin="round">Absorbance</text>
<text transform="matrix(0.20387,0,0,0.21383,936.835,1011.360)" font-family="&quot;Liberation Sans&quot;, sans-serif" font-weight="bold" font-style="normal" font-size="100" stroke="#000" stroke-width="1.44" stroke-linejoin="round">concentration (ug/mL)</text>
<text transform="matrix(0.20687,0,0,0.22746,1075.561,851.998)" font-family="&quot;Liberation Sans&quot;, sans-serif" font-weight="normal" font-style="normal" font-size="100" stroke="#000" stroke-width="0.69" stroke-linejoin="round">Y = 0.005436X + 0.003732</text>
<text transform="matrix(0.20750,0,0,0.21071,1130.215,881.125)" font-family="&quot;Liberation Sans&quot;, sans-serif" font-weight="normal" font-style="normal" font-size="100" stroke="#000" stroke-width="0.72" stroke-linejoin="round">R</text>
<text transform="matrix(0.14674,0,0,0.13786,1145.041,871.725)" font-family="&quot;Liberation Sans&quot;, sans-serif" font-weight="normal" font-style="normal" font-size="100" stroke="#000" stroke-width="1.05" stroke-linejoin="round">2</text>
<text transform="matrix(0.20634,0,0,0.21761,1152.943,881.307)" font-family="&quot;Liberation Sans&quot;, sans-serif" font-weight="normal" font-style="normal" font-size="100" stroke="#000" stroke-width="0.71" stroke-linejoin="round">=0.9993</text>
<text transform="matrix(0.35000,0,0,0.32872,1386.850,571.897)" font-family="&quot;Liberation Sans&quot;, sans-serif" font-weight="bold" font-style="normal" font-size="100">(f)</text>
<text transform="matrix(0.23006,0,0,0.24286,1569.805,592.732)" font-family="&quot;Liberation Serif&quot;, serif" font-weight="bold" font-style="italic" font-size="100" stroke="#000" stroke-width="2.33" stroke-linejoin="round">Hedera Helix standard curve</text>
<text transform="matrix(0.22640,0,0,0.23099,1674.522,619.513)" font-family="&quot;Liberation Serif&quot;, serif" font-weight="bold" font-style="italic" font-size="100" stroke="#000" stroke-width="2.41" stroke-linejoin="round">in PBS</text>
<text transform="matrix(0.17410,0,0,0.17746,1444.299,637.923)" font-family="&quot;Liberation Sans&quot;, sans-serif" font-weight="bold" font-style="normal" font-size="100" stroke="#000" stroke-width="1.71" stroke-linejoin="round">2.5</text>
<text transform="matrix(0.17406,0,0,0.17746,1444.651,701.163)" font-family="&quot;Liberation Sans&quot;, sans-serif" font-weight="bold" font-style="normal" font-size="100" stroke="#000" stroke-width="1.71" stroke-linejoin="round">2.0</text>
<text transform="matrix(0.17405,0,0,0.18000,1444.306,764.400)" font-family="&quot;Liberation Sans&quot;, sans-serif" font-weight="bold" font-style="normal" font-size="100" stroke="#000" stroke-width="1.69" stroke-linejoin="round">1.5</text>
<text transform="matrix(0.17401,0,0,0.17746,1444.659,827.643)" font-family="&quot;Liberation Sans&quot;, sans-serif" font-weight="bold" font-style="normal" font-size="100" stroke="#000" stroke-width="1.71" stroke-linejoin="round">1.0</text>
<text transform="matrix(0.17408,0,0,0.17746,1444.301,890.883)" font-family="&quot;Liberation Sans&quot;, sans-serif" font-weight="bold" font-style="normal" font-size="100" stroke="#000" stroke-width="1.71" stroke-linejoin="round">0.5</text>
<text transform="matrix(0.17405,0,0,0.17746,1444.654,954.123)" font-family="&quot;Liberation Sans&quot;, sans-serif" font-weight="bold" font-style="normal" font-size="100" stroke="#000" stroke-width="1.71" stroke-linejoin="round">0.0</text>
<text transform="matrix(0.17375,0,0,0.17324,1477.735,980.077)" font-family="&quot;Liberation Sans&quot;, sans-serif" font-weight="bold" font-style="normal" font-size="100" stroke="#000" stroke-width="1.73" stroke-linejoin="round">0</text>
<text transform="matrix(0.17813,0,0,0.17324,1617.246,980.077)" font-family="&quot;Liberation Sans&quot;, sans-serif" font-weight="bold" font-style="normal" font-size="100" stroke="#000" stroke-width="1.71" stroke-linejoin="round">200</text>
<text transform="matrix(0.17815,0,0,0.17324,1766.852,980.077)" font-family="&quot;Liberation Sans&quot;, sans-serif" font-weight="bold" font-style="normal" font-size="100" stroke="#000" stroke-width="1.71" stroke-linejoin="round">400</text>
<text transform="matrix(0.17813,0,0,0.17324,1916.106,980.077)" font-family="&quot;Liberation Sans&quot;, sans-serif" font-weight="bold" font-style="normal" font-size="100" stroke="#000" stroke-width="1.71" stroke-linejoin="round">600</text>
<text transform="matrix(0,-0.20419,0.18919,0,1407.561,848.958)" font-family="&quot;Liberation Sans&quot;, sans-serif" font-weight="bold" font-style="normal" font-size="100" stroke="#000" stroke-width="1.53" stroke-linejoin="round">Absorbance</text>
<text transform="matrix(0.19799,0,0,0.20106,1601.958,1012.828)" font-family="&quot;Liberation Sans&quot;, sans-serif" font-weight="bold" font-style="normal" font-size="100" stroke="#000" stroke-width="1.50" stroke-linejoin="round">concentration (ug/mL)</text>
<text transform="matrix(0.20024,0,0,0.21761,1739.675,867.307)" font-family="&quot;Liberation Sans&quot;, sans-serif" font-weight="normal" font-style="normal" font-size="100" stroke="#000" stroke-width="0.72" stroke-linejoin="round">Y = 0.004267X - 0.2001</text>
<text transform="matrix(0.20750,0,0,0.20643,1775.015,895.325)" font-family="&quot;Liberation Sans&quot;, sans-serif" font-weight="normal" font-style="normal" font-size="100" stroke="#000" stroke-width="0.72" stroke-linejoin="round">R</text>
<text transform="matrix(0.14022,0,0,0.12929,1789.774,886.125)" font-family="&quot;Liberation Sans&quot;, sans-serif" font-weight="normal" font-style="normal" font-size="100" stroke="#000" stroke-width="1.11" stroke-linejoin="round">2</text>
<text transform="matrix(0.20170,0,0,0.20634,1797.267,895.119)" font-family="&quot;Liberation Sans&quot;, sans-serif" font-weight="normal" font-style="normal" font-size="100" stroke="#000" stroke-width="0.74" stroke-linejoin="round">= 0.9968</text></svg>
</body></html>
